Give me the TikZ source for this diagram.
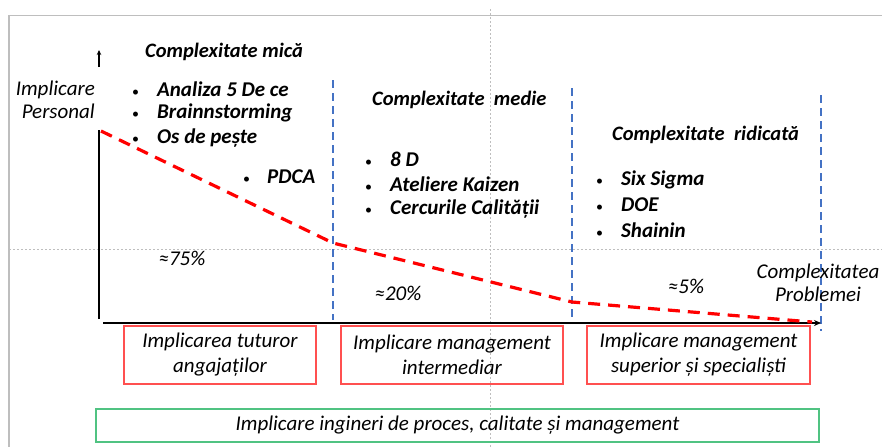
\documentclass[tikz,border=0pt]{standalone}
\usepackage{fontspec}
\setmainfont{Carlito}
\usetikzlibrary{arrows.meta}
\definecolor{officeblue}{RGB}{68,114,196}
\definecolor{framegrey}{RGB}{190,190,190}
\definecolor{boxred}{RGB}{255,80,80}
\definecolor{boxgreen}{RGB}{80,195,130}
\newcommand{\bul}[1]{\makebox[#1][l]{\hspace{1pt}\fontsize{14}{14}\selectfont\mdseries\upshape •}}
\begin{document}
\begin{tikzpicture}[x=1pt,y=-1pt,
  title/.style={font=\fontsize{20.5}{24}\selectfont\bfseries\itshape, inner sep=0pt},
  item/.style={font=\fontsize{21}{24}\selectfont\bfseries\itshape, inner sep=0pt, anchor=west},
  lbl/.style={font=\fontsize{21}{23.5}\selectfont\itshape, inner sep=0pt, align=center},
  pct/.style={font=\fontsize{21}{24}\selectfont\itshape, inner sep=0pt},
  redbox/.style={draw=boxred, line width=1.2pt, font=\fontsize{21}{25}\selectfont\itshape, align=center, inner sep=0pt},
  greenbox/.style={draw=boxgreen, line width=1.5pt, font=\fontsize{21}{24}\selectfont\itshape, inner sep=0pt},
  sep/.style={draw=officeblue, line width=1.8pt, dash pattern=on 8pt off 5pt},
  guide/.style={draw=framegrey, line width=0.8pt, dash pattern=on 2pt off 2pt},
  curve/.style={draw=red, line width=3.2pt, dash pattern=on 12pt off 8pt}]
\useasboundingbox (0,0) rectangle (882,447);
% frame
\coordinate (ftl) at (9,15.5);
\coordinate (ftr) at (882,15.5);
\coordinate (fbl) at (9,447);
\draw[framegrey, line width=1.5pt] (ftr) -- (ftl) -- (fbl);
% guides
\coordinate (gvt) at (490,9);
\coordinate (gvb) at (490,447);
\coordinate (ghl) at (9,249);
\coordinate (ghr) at (882,249);
\draw[guide] (gvt) -- (gvb);
\draw[guide] (ghl) -- (ghr);
% blue separators
\coordinate (s1t) at (333,80); \coordinate (s1b) at (333,320);
\coordinate (s2t) at (572,88); \coordinate (s2b) at (572,324);
\coordinate (s3t) at (821,95); \coordinate (s3b) at (821,331);
\draw[sep] (s1t) -- (s1b);
\draw[sep] (s2t) -- (s2b);
\draw[sep] (s3t) -- (s3b);
% axes
\coordinate (yb) at (99,319);
\coordinate (yt) at (99,130);
\coordinate (ya1) at (99,67);
\coordinate (ya2) at (99,50);
\coordinate (xl) at (103,323);
\coordinate (xr) at (821,323);
\draw[line width=2.2pt] (yb) -- (yt);
\draw[line width=1.6pt, -{Stealth[length=5pt,width=4.5pt]}] (ya1) -- (ya2);
\draw[line width=2.2pt, -{Stealth[length=7pt,width=6pt]}] (xl) -- (xr);
% red dashed curve
\coordinate (c0) at (101,131);
\coordinate (c1) at (333,243);
\coordinate (c2) at (572,302);
\coordinate (c3) at (812,322);
\draw[curve] (c0) -- (c1) -- (c2) -- (c3);
% axis labels
\node[lbl, align=right, anchor=east] (ylab) at (95,100) {Implicare\\Personal};
\node[lbl] (xlab) at (818,283) {Complexitatea\\Problemei};
% titles
\node[title, anchor=west] (t1) at (145,52) {Complexitate mică};
\node[title, anchor=west] (t2) at (372,100) {Complexitate\ \ medie};
\node[title, anchor=west] (t3) at (612,135) {Complexitate\ \ ridicată};
% items column 1
\node[item] (i11) at (131,89) {\bul{26pt}Analiza 5 De ce};
\node[item] (i12) at (131,113) {\bul{26pt}Brainnstorming};
\node[item] (i13) at (131,138) {\bul{26pt}Os de pește};
\node[item] (i14) at (242,177) {\bul{25pt}PDCA};
% items column 2
\node[item] (i21) at (364,159) {\bul{26pt}8 D};
\node[item] (i22) at (364,184) {\bul{26pt}Ateliere Kaizen};
\node[item] (i23) at (364,209) {\bul{26pt}Cercurile Calității};
% items column 3
\node[item] (i31) at (595,180) {\bul{26pt}Six Sigma};
\node[item] (i32) at (595,205) {\bul{26pt}DOE};
\node[item] (i33) at (595,230) {\bul{26pt}Shainin};
% percentages
\node[pct] (p1) at (182,258) {≈75\%};
\node[pct] (p2) at (398,293) {≈20\%};
\node[pct] (p3) at (686,286) {≈5\%};
% boxes
\node[redbox, minimum width=192pt, minimum height=58pt] (b1) at (220,355) {Implicarea tuturor\\angajaților};
\node[redbox, minimum width=222pt, minimum height=58pt] (b2) at (452,355) {Implicare management\\intermediar};
\node[redbox, minimum width=223pt, minimum height=58pt] (b3) at (698.5,355) {Implicare management\\superior și specialiști};
\node[greenbox, minimum width=723pt, minimum height=33pt] (g) at (457.5,425.5) {Implicare ingineri de proces, calitate și management};
\end{tikzpicture}
\end{document}
